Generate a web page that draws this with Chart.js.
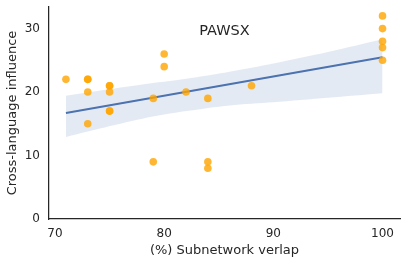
<!DOCTYPE html>
<html>
<head>
<meta charset="utf-8">
<script src="https://cdn.jsdelivr.net/npm/chart.js@4.4.1/dist/chart.umd.min.js"></script>
<style>
  html, body { margin: 0; padding: 0; background: #fff; }
  #wrap { width: 407px; height: 265px; }
</style>
</head>
<body>
<div id="wrap"><canvas id="grafico" width="407" height="265"></canvas></div>
<script>
// pontos (sobreposição da subrede x influência)
var overlap   = [71, 73, 73, 73, 73, 75, 75, 75, 75, 75, 79, 79, 80, 80, 82, 84, 84, 84, 88, 100, 100, 100, 100, 100];
var influence = [22, 22, 22, 20, 15, 21, 21, 20, 17, 17, 19, 9, 26, 24, 20, 19, 9, 8, 21, 32, 30, 28, 27, 25];

// reta de regressão (extremos)
var fitX = [71, 100];
var fitY = [16.7, 25.5];

// faixa de confiança
var bandX     = [71, 74, 78, 82, 86, 90, 95, 100];
var bandLower = [12.9, 14.2, 15.8, 17.0, 17.9, 18.4, 19.1, 19.8];
var bandUpper = [19.4, 20.2, 21.2, 22.1, 23.2, 24.5, 26.3, 28.3];

var xTicks = [70, 80, 90, 100];
var yTicks = [0, 10, 20, 30];

function pares(xs, ys) {
    return xs.map(function (x, i) { return { x: x, y: ys[i] }; });
}

var fonte = 'DejaVu Sans';
var corTexto = '#262626';

// texto "PAWSX" dentro do gráfico
var tituloInterno = {
    id: 'tituloInterno',
    afterDraw: function (chart) {
        var a = chart.chartArea;
        var ctx = chart.ctx;
        ctx.save();
        ctx.font = '14.5px "' + fonte + '"';
        ctx.fillStyle = corTexto;
        ctx.textAlign = 'center';
        ctx.textBaseline = 'middle';
        ctx.fillText('PAWSX', (a.left + a.right) / 2, a.top + 24);
        ctx.restore();
    }
};

var ctx = document.getElementById('grafico').getContext('2d');

var config = {
    type: 'scatter',
    data: {
        datasets: [
            {
                label: 'pontos',
                data: pares(overlap, influence),
                backgroundColor: 'rgba(255, 165, 0, 0.8)',
                borderWidth: 0,
                pointRadius: 3.8,
                order: 0
            },
            {
                label: 'regressão',
                data: pares(fitX, fitY),
                showLine: true,
                borderColor: '#4C72B0',
                borderWidth: 2,
                pointRadius: 0,
                order: 1
            },
            {
                label: 'superior',
                data: pares(bandX, bandUpper),
                showLine: true,
                borderWidth: 0,
                borderColor: 'rgba(0,0,0,0)',
                pointRadius: 0,
                backgroundColor: 'rgba(76, 114, 176, 0.15)',
                fill: '+1',
                tension: 0.3,
                order: 2
            },
            {
                label: 'inferior',
                data: pares(bandX, bandLower),
                showLine: true,
                borderWidth: 0,
                borderColor: 'rgba(0,0,0,0)',
                pointRadius: 0,
                fill: false,
                tension: 0.3,
                order: 3
            }
        ]
    },
    options: {
        responsive: false,
        animation: false,
        layout: { padding: { top: 7, right: 7, left: 0, bottom: 0 } },
        plugins: {
            legend: { display: false },
            tooltip: { enabled: false }
        },
        scales: {
            x: {
                type: 'linear',
                min: 69.45,
                max: 101.6,
                afterBuildTicks: function (s) { s.ticks = xTicks.map(function (v) { return { value: v }; }); },
                afterFit: function (s) { s.height = 46; s.paddingLeft = 0; s.paddingRight = 0; },
                grid: { display: false, drawTicks: false },
                border: { display: true, color: '#262626', width: 1.25 },
                ticks: { color: corTexto, font: { family: fonte, size: 12 }, padding: 8 },
                title: {
                    display: true,
                    text: '(%) Subnetwork verlap',
                    color: corTexto,
                    font: { family: fonte, size: 13 },
                    padding: { top: 0, bottom: 7 }
                }
            },
            y: {
                type: 'linear',
                min: 0,
                max: 33.4,
                afterBuildTicks: function (s) { s.ticks = yTicks.map(function (v) { return { value: v }; }); },
                afterFit: function (s) { s.width = 49; s.paddingTop = 0; s.paddingBottom = 0; },
                grid: { display: false, drawTicks: false },
                border: { display: true, color: '#262626', width: 1.25 },
                ticks: { color: corTexto, font: { family: fonte, size: 12 }, padding: 9 },
                title: {
                    display: true,
                    text: 'Cross-language influence',
                    color: corTexto,
                    font: { family: fonte, size: 13 },
                    padding: { top: 5, bottom: 0 }
                }
            }
        }
    },
    plugins: [tituloInterno]
};

var graficoInfluencia = new Chart(ctx, config);
</script>
</body>
</html>
